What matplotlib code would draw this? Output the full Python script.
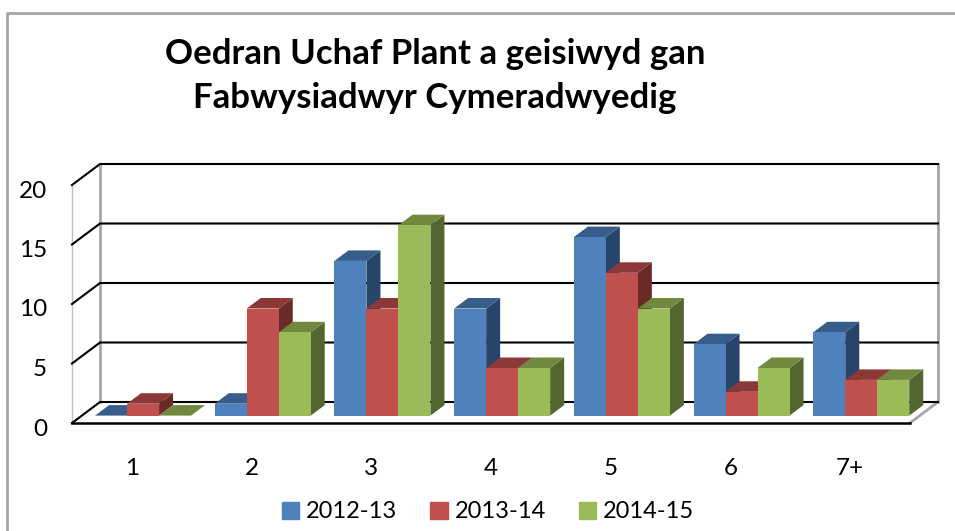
import matplotlib.pyplot as plt
from matplotlib.patches import Polygon

plt.rcParams['font.family'] = ['Lato', 'DejaVu Sans']

categories = ['1', '2', '3', '4', '5', '6', '7+']
y_ticks = [0, 5, 10, 15, 20]
title_lines = 'Oedran Uchaf Plant a geisiwyd gan\nFabwysiadwyr Cymeradwyedig'

series_names = ['2012-13', '2013-14', '2014-15']
values_2012 = [0, 1, 13, 9, 15, 6, 7]
values_2013 = [1, 9, 9, 4, 12, 2, 3]
values_2014 = [0, 7, 16, 4, 9, 4, 3]

front_colors = ['#4F81BD', '#C0504D', '#9BBB59']
top_colors = ['#385D8A', '#8C3836', '#71893F']
side_colors = ['#27456B', '#692A28', '#536630']

# size of one category / one y unit in pixels, the axes fills the whole figure
px_x = 119.7
px_y = 11.9
zero_px_x = 131.85
zero_px_y = 423

fig = plt.figure(figsize=(9.55, 5.31), dpi=100)
ax = fig.add_axes([0, 0, 1, 1])
ax.set_xlim(-zero_px_x / px_x, (955 - zero_px_x) / px_x)
ax.set_ylim((zero_px_y - 531) / px_y, zero_px_y / px_y)
ax.axis('off')

# fake 3d: depth of the walls and of the bars, in data units
wall_dx = 28 / px_x
wall_dy = 21 / px_y
bar_dx = 14 / px_x
bar_dy = 10.5 / px_y
shift_dx = 11.2 / px_x
shift_dy = 7.4 / px_y
bar_w = 32 / px_x

x_left = -0.5
x_right = 6.5

# outer frame, only top and left are in the picture
ax.plot([(7 - zero_px_x) / px_x, (7 - zero_px_x) / px_x, ax.get_xlim()[1]],
        [ax.get_ylim()[0], (zero_px_y - 13) / px_y, (zero_px_y - 13) / px_y],
        color='#A6A6A6', lw=2, solid_capstyle='butt', zorder=1)

# walls
ax.plot([x_left, x_left], [0, 20], color='#BFBFBF', lw=1, zorder=1)
ax.plot([x_left + wall_dx] * 2, [wall_dy, 20 + wall_dy], color='#A6A6A6', lw=2, zorder=1)
ax.plot([x_right + wall_dx] * 2, [wall_dy, 20 + wall_dy], color='#A6A6A6', lw=2, zorder=1)
ax.plot([x_right, x_right + wall_dx], [0, wall_dy], color='#A6A6A6', lw=2, zorder=1)
for t in y_ticks:
    ax.plot([x_left, x_left + wall_dx, x_right + wall_dx], [t, t + wall_dy, t + wall_dy],
            color='black', lw=1.5, zorder=2)
    ax.text(x_left - 25 / px_x, t - 6 / px_y, str(t), ha='right', va='center', fontsize=17.5)
ax.plot([x_left, x_right], [0, 0], color='black', lw=1.8, zorder=2)

# bars, left to right so the next bar hides the side of the one before
all_values = [values_2012, values_2013, values_2014]
z = 3
for i in range(len(categories)):
    for s in range(3):
        v = all_values[s][i]
        x0 = i + shift_dx + (s - 1.5) * bar_w
        x1 = x0 + bar_w
        y0 = shift_dy
        y1 = shift_dy + v
        ax.add_patch(Polygon([(x1, y0), (x1 + bar_dx, y0 + bar_dy), (x1 + bar_dx, y1 + bar_dy), (x1, y1)],
                             closed=True, fc=side_colors[s], ec='none', zorder=z))
        ax.add_patch(Polygon([(x0, y1), (x1, y1), (x1 + bar_dx, y1 + bar_dy), (x0 + bar_dx, y1 + bar_dy)],
                             closed=True, fc=top_colors[s], ec='none', zorder=z + 1))
        ax.bar(x0, v, width=bar_w, bottom=y0, align='edge', color=front_colors[s], zorder=z + 2)
        z += 3

for i, c in enumerate(categories):
    ax.text(i, -45.5 / px_y, c, ha='center', va='center', fontsize=17.5)

ax.text(435 / px_x - zero_px_x / px_x, (zero_px_y - 76) / px_y, title_lines, ha='center', va='center',
        fontsize=25, fontweight='bold', linespacing=1.43)

handles = [plt.Rectangle((0, 0), 1, 1, color=c) for c in front_colors]
ax.legend(handles, series_names, loc='center', bbox_to_anchor=(488 / 955, 1 - 512 / 531), ncol=3,
          frameon=False, fontsize=17, handlelength=0.73, handleheight=0.73, handletextpad=0.3,
          columnspacing=1.4, borderpad=0)

fig.savefig('out.png', dpi=100)
